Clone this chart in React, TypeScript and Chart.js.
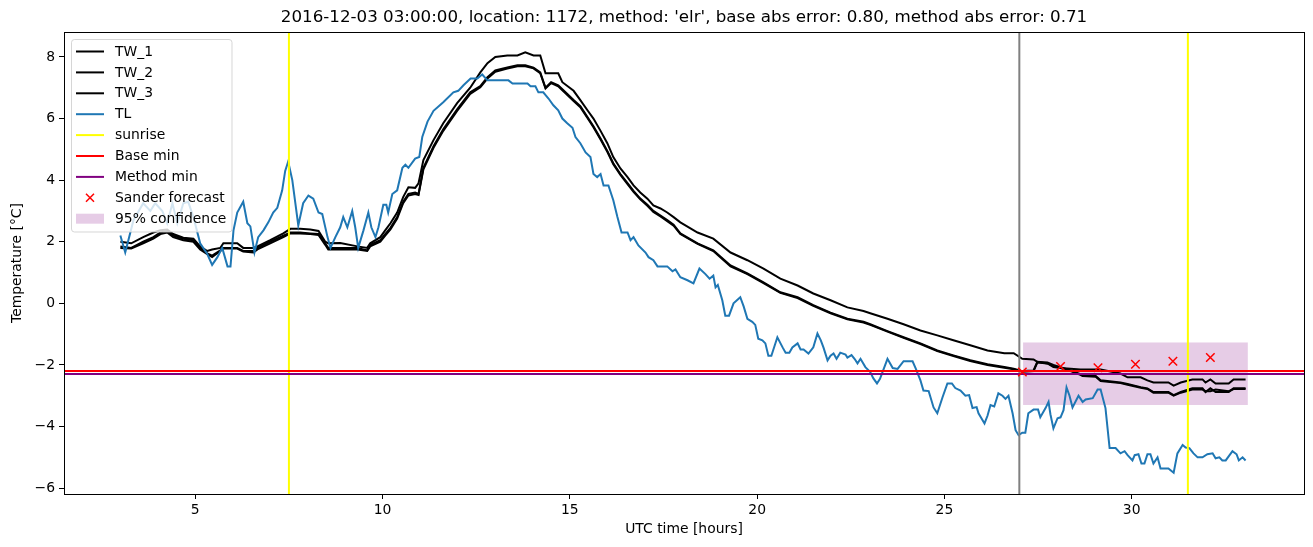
import React, { useEffect, useRef } from "react";
import { Chart, registerables } from "chart.js";

Chart.register(...registerables);

const FONT = "'DejaVu Sans', sans-serif";

const titleText =
  "2016-12-03 03:00:00, location: 1172, method: 'elr', base abs error: 0.80, method abs error: 0.71";
const xAxisTitle = "UTC time [hours]";
const yAxisTitle = "Temperature [°C]";

const xTicks = [5, 10, 15, 20, 25, 30];
const yTicks = [-6, -4, -2, 0, 2, 4, 6, 8];
const xLimits = [1.495, 34.6];
const yLimits = [-6.19, 8.81];

const tlHours = [
  3.0, 3.13, 3.35, 3.61, 3.8, 3.93, 4.12, 4.25, 4.39, 4.52,
  4.68, 4.81, 4.95, 5.13, 5.32, 5.45, 5.59, 5.72, 5.86, 5.94,
  6.02, 6.12, 6.28, 6.39, 6.47, 6.58, 6.68, 6.82, 6.95, 7.08,
  7.19, 7.32, 7.4, 7.48, 7.59, 7.75, 7.88, 8.02, 8.15, 8.29,
  8.39, 8.53, 8.61, 8.74, 8.87, 8.95, 9.06, 9.19, 9.27, 9.35,
  9.49, 9.62, 9.7, 9.81, 9.89, 10.02, 10.1, 10.15, 10.26, 10.39,
  10.53, 10.61, 10.69, 10.87, 10.98, 11.06, 11.2, 11.36, 11.62, 11.89,
  12.02, 12.16, 12.35, 12.53, 12.66, 12.8, 13.36, 13.47, 13.87, 13.95,
  14.08, 14.16, 14.29, 14.43, 14.56, 14.69, 14.8, 14.93, 15.07, 15.15,
  15.28, 15.42, 15.55, 15.63, 15.73, 15.82, 15.9, 16.03, 16.16, 16.27,
  16.38, 16.54, 16.62, 16.7, 16.83, 17.02, 17.1, 17.23, 17.34, 17.6,
  17.74, 17.82, 17.95, 18.14, 18.3, 18.46, 18.62, 18.73, 18.83, 18.89,
  18.95, 19.07, 19.15, 19.25, 19.37, 19.55, 19.64, 19.74, 19.87, 19.95,
  20.03, 20.14, 20.22, 20.3, 20.38, 20.54, 20.68, 20.76, 20.86, 20.94,
  21.08, 21.16, 21.24, 21.37, 21.5, 21.61, 21.7, 21.77, 21.88, 21.96,
  22.04, 22.12, 22.22, 22.36, 22.41, 22.52, 22.6, 22.68, 22.76, 22.89,
  23.02, 23.1, 23.2, 23.28, 23.48, 23.62, 23.75, 23.91, 24.15, 24.23,
  24.36, 24.44, 24.58, 24.71, 24.81, 24.95, 25.08, 25.2, 25.29, 25.43,
  25.56, 25.66, 25.75, 25.86, 25.91, 26.07, 26.15, 26.23, 26.33, 26.44,
  26.55, 26.63, 26.71, 26.82, 26.9, 26.98, 27.08, 27.16, 27.24, 27.38,
  27.5, 27.56, 27.7, 27.78, 27.83, 27.91, 28.02, 28.1, 28.18, 28.26,
  28.34, 28.42, 28.58, 28.69, 28.77, 28.96, 29.09, 29.17, 29.3, 29.41,
  29.57, 29.7, 29.81, 29.89, 30.02, 30.08, 30.18, 30.26, 30.34, 30.42,
  30.5, 30.58, 30.69, 30.77, 30.98, 31.12, 31.22, 31.36, 31.44, 31.54,
  31.65, 31.76, 31.89, 32.02, 32.16, 32.24, 32.34, 32.42, 32.51, 32.69,
  32.8, 32.86, 32.96, 33.04,
];
const tlTemps = [
  2.2, 1.65, 2.7, 3.25, 3.0, 3.25, 3.0, 2.6, 3.25, 2.6,
  3.25, 3.3, 2.8, 1.95, 1.6, 1.25, 1.5, 1.8, 1.2, 1.2,
  2.37, 2.95, 3.3, 2.6, 2.5, 1.65, 2.15, 2.37, 2.63, 2.95,
  3.1, 3.67, 4.3, 4.6, 4.0, 2.53, 3.25, 3.5, 3.4, 2.95,
  2.9, 2.15, 1.8, 2.15, 2.47, 2.8, 2.47, 3.0, 2.47, 1.8,
  2.37, 2.95, 2.47, 2.15, 2.47, 3.2, 3.2, 2.95, 3.55, 3.67,
  4.4, 4.5, 4.4, 4.7, 4.75, 5.4, 5.9, 6.25, 6.53, 6.85,
  6.9, 7.08, 7.3, 7.3, 7.43, 7.24, 7.24, 7.14, 7.14, 7.05,
  7.05, 6.85, 6.85, 6.65, 6.43, 6.27, 6.0, 5.85, 5.7, 5.4,
  5.2, 4.9, 4.75, 4.2, 4.1, 4.2, 3.83, 3.83, 3.35, 2.8,
  2.3, 2.3, 2.05, 2.15, 1.88, 1.65, 1.5, 1.4, 1.2, 1.2,
  1.04, 1.1, 0.85, 0.75, 0.65, 1.13, 0.95, 0.8, 0.9, 0.52,
  0.6, 0.1, -0.4, -0.4, 0.0, 0.2, -0.1, -0.5, -0.6, -0.7,
  -1.15, -1.2, -1.3, -1.7, -1.7, -1.1, -1.43, -1.6, -1.6, -1.43,
  -1.3, -1.5, -1.5, -1.63, -1.43, -0.98, -1.2, -1.43, -1.85, -1.7,
  -1.63, -1.8, -1.6, -1.66, -1.76, -1.68, -1.8, -1.95, -1.8, -2.07,
  -2.23, -2.43, -2.6, -2.45, -1.8, -2.1, -2.13, -1.88, -1.88, -2.1,
  -2.5, -2.83, -2.85, -3.38, -3.57, -3.05, -2.6, -2.6, -2.75, -2.83,
  -3.0, -2.98, -3.4, -3.37, -3.57, -3.9, -3.65, -3.3, -3.35, -2.92,
  -3.0, -3.1, -3.0, -3.57, -4.12, -4.28, -4.2, -4.2, -3.57, -3.45,
  -3.45, -3.7, -3.4, -3.2, -3.6, -4.06, -3.73, -3.7, -3.47, -2.73,
  -3.0, -3.38, -3.0, -3.2, -3.12, -3.08, -2.8, -2.8, -3.4, -4.7,
  -4.7, -4.87, -4.8, -4.93, -5.1, -4.93, -4.9, -5.2, -5.2, -4.9,
  -4.9, -5.2, -5.0, -5.36, -5.36, -5.5, -4.87, -4.6, -4.68, -4.7,
  -4.87, -5.0, -5.0, -4.9, -4.87, -5.03, -5.0, -5.1, -5.1, -4.8,
  -4.9, -5.1, -5.0, -5.1,
];

const twHours = [
  3.0, 3.29, 3.61, 3.88, 4.07, 4.25, 4.41, 4.68, 4.95, 5.13,
  5.32, 5.45, 5.67, 5.75, 6.12, 6.28, 6.55, 6.66, 7.0, 7.35,
  7.54, 7.8, 8.07, 8.29, 8.47, 8.55, 8.87, 9.33, 9.59, 9.67,
  9.94, 10.07, 10.21, 10.39, 10.55, 10.69, 10.87, 10.96, 11.09, 11.36,
  11.62, 11.99, 12.34, 12.61, 12.8, 13.01, 13.33, 13.6, 13.81, 14.03,
  14.21, 14.35, 14.5, 14.69, 14.8, 15.1, 15.28, 15.47, 15.63, 15.82,
  16.0, 16.16, 16.35, 16.54, 16.7, 16.88, 17.07, 17.23, 17.42, 17.6,
  17.77, 17.95, 18.41, 18.83, 19.29, 19.74, 20.17, 20.62, 21.08, 21.5,
  21.96, 22.41, 22.84, 23.02, 23.48, 23.91, 24.36, 24.81, 25.24, 25.69,
  26.15, 26.6, 26.85, 27.08, 27.38, 27.48, 27.75, 27.91, 28.1, 28.37,
  28.63, 28.69, 29.04, 29.17, 29.7, 29.89, 30.24, 30.42, 30.58, 30.98,
  31.12, 31.31, 31.62, 31.89, 31.97, 32.1, 32.24, 32.59, 32.72, 33.04,
];
const tw1 = [
  2.0, 1.95, 2.15, 2.3, 2.37, 2.4, 2.25, 2.13, 2.1, 1.85,
  1.7, 1.75, 1.8, 1.95, 1.95, 1.8, 1.8, 1.85, 2.05, 2.27,
  2.42, 2.42, 2.4, 2.35, 2.0, 1.95, 1.96, 1.85, 1.8, 1.95,
  2.15, 2.37, 2.6, 2.95, 3.45, 3.77, 3.75, 3.9, 4.65, 5.3,
  5.85, 6.5, 7.0, 7.5, 7.8, 8.0, 8.05, 8.05, 8.15, 8.05,
  8.05, 7.47, 7.47, 7.47, 7.18, 6.9, 6.6, 6.27, 6.0, 5.6,
  5.2, 4.75, 4.38, 4.1, 3.83, 3.6, 3.4, 3.18, 3.08, 2.95,
  2.8, 2.63, 2.3, 2.1, 1.65, 1.4, 1.13, 0.8, 0.58, 0.32,
  0.1, -0.13, -0.25, -0.32, -0.5, -0.68, -0.88, -1.04, -1.2, -1.36,
  -1.53, -1.62, -1.62, -1.8, -1.82, -1.9, -1.95, -2.07, -2.1, -2.12,
  -2.15, -2.15, -2.15, -2.15, -2.28, -2.4, -2.4, -2.5, -2.57, -2.57,
  -2.67, -2.57, -2.47, -2.47, -2.57, -2.47, -2.6, -2.6, -2.47, -2.47,
];
const tw2 = [
  1.85, 1.8, 2.0, 2.15, 2.3, 2.35, 2.2, 2.1, 2.05, 1.8,
  1.62, 1.55, 1.72, 1.8, 1.8, 1.7, 1.7, 1.8, 2.0, 2.2,
  2.3, 2.3, 2.27, 2.25, 1.95, 1.8, 1.8, 1.8, 1.72, 1.9,
  2.05, 2.25, 2.45, 2.8, 3.3, 3.55, 3.6, 3.55, 4.4, 5.1,
  5.65, 6.3, 6.85, 7.05, 7.34, 7.56, 7.66, 7.73, 7.73, 7.65,
  7.5, 7.0, 7.18, 7.08, 6.95, 6.6, 6.4, 6.05, 5.75, 5.35,
  4.95, 4.55, 4.2, 3.9, 3.65, 3.4, 3.2, 3.0, 2.85, 2.7,
  2.55, 2.27, 1.95, 1.72, 1.23, 0.97, 0.68, 0.36, 0.2, -0.06,
  -0.3, -0.5, -0.6, -0.68, -0.9, -1.1, -1.3, -1.53, -1.69, -1.85,
  -1.98, -2.07, -2.12, -2.2, -2.18, -1.9, -1.92, -2.0, -2.07, -2.18,
  -2.3, -2.34, -2.36, -2.5, -2.57, -2.62, -2.72, -2.76, -2.88, -2.88,
  -2.98, -2.88, -2.76, -2.76, -2.88, -2.76, -2.88, -2.88, -2.76, -2.76,
];
const tw3 = [
  1.8, 1.78, 1.95, 2.1, 2.25, 2.3, 2.15, 2.05, 2.0, 1.75,
  1.6, 1.5, 1.7, 1.78, 1.78, 1.68, 1.65, 1.75, 1.95, 2.15,
  2.27, 2.27, 2.25, 2.22, 1.9, 1.75, 1.75, 1.75, 1.7, 1.85,
  2.0, 2.2, 2.4, 2.75, 3.25, 3.5, 3.55, 3.52, 4.35, 5.05,
  5.6, 6.25, 6.8, 7.02, 7.3, 7.52, 7.62, 7.7, 7.7, 7.63,
  7.47, 6.98, 7.15, 7.05, 6.92, 6.57, 6.37, 6.02, 5.72, 5.32,
  4.92, 4.52, 4.17, 3.87, 3.62, 3.38, 3.17, 2.97, 2.82, 2.67,
  2.52, 2.25, 1.93, 1.7, 1.2, 0.95, 0.66, 0.34, 0.17, -0.08,
  -0.32, -0.52, -0.62, -0.7, -0.92, -1.12, -1.32, -1.55, -1.71, -1.87,
  -2.0, -2.09, -2.14, -2.22, -2.2, -1.92, -1.95, -2.03, -2.1, -2.2,
  -2.32, -2.36, -2.38, -2.52, -2.59, -2.64, -2.74, -2.78, -2.9, -2.9,
  -3.0, -2.9, -2.8, -2.8, -2.85, -2.85, -2.8, -2.85, -2.78, -2.78,
];

const sunriseHours = [7.5, 31.5];
const forecastStartHour = 27;
const baseMin = -2.2;
const methodMin = -2.29;
const sanderHours = [27.08, 28.1, 29.1, 30.1, 31.1, 32.1];
const sanderTemps = [-2.23, -2.05, -2.09, -1.98, -1.88, -1.76];
const confHours = [27.1, 33.1];
const confTemps = [-3.3, -1.27];

const legendItems = [
  { label: "TW_1", kind: "line", color: "#000000" },
  { label: "TW_2", kind: "line", color: "#000000" },
  { label: "TW_3", kind: "line", color: "#000000" },
  { label: "TL", kind: "line", color: "#1f77b4" },
  { label: "sunrise", kind: "line", color: "#ffff00" },
  { label: "Base min", kind: "line", color: "#ff0000" },
  { label: "Method min", kind: "line", color: "#800080" },
  { label: "Sander forecast", kind: "marker", color: "#ff0000" },
  { label: "95% confidence", kind: "patch", color: "rgba(128,0,128,0.2)" },
];

const fmtTick = (v: number | string) => String(v).replace("-", "\u2212");

export default function App() {
  const ref = useRef<HTMLCanvasElement>(null);

  useEffect(() => {
    const canvas = ref.current;
    if (!canvas) return;

    const pts = (xs: number[], ys: number[]) => xs.map((x, i) => ({ x, y: ys[i] }));
    const vLine = (h: number) => [
      { x: h, y: yLimits[0] },
      { x: h, y: yLimits[1] },
    ];
    const hLine = (v: number) => [
      { x: xLimits[0], y: v },
      { x: xLimits[1], y: v },
    ];
    const lineDs = (label: string, data: any[], color: string, order: number) => ({
      type: "line" as const,
      label,
      data,
      borderColor: color,
      backgroundColor: color,
      borderWidth: 2,
      pointRadius: 0,
      pointHoverRadius: 0,
      fill: false,
      tension: 0,
      order,
    });

    const decor = {
      id: "decor",
      beforeDatasetsDraw(chart: any) {
        const { ctx, chartArea, scales } = chart;
        const xs = scales.x;
        const ys = scales.y;
        ctx.save();
        ctx.beginPath();
        ctx.rect(chartArea.left, chartArea.top, chartArea.right - chartArea.left, chartArea.bottom - chartArea.top);
        ctx.clip();
        const x1 = xs.getPixelForValue(confHours[0]);
        const x2 = xs.getPixelForValue(confHours[1]);
        const y1 = ys.getPixelForValue(confTemps[1]);
        const y2 = ys.getPixelForValue(confTemps[0]);
        ctx.fillStyle = "rgba(128,0,128,0.2)";
        ctx.fillRect(x1, y1, x2 - x1, y2 - y1);
        ctx.restore();
      },
      afterDatasetsDraw(chart: any) {
        const { ctx, chartArea } = chart;
        ctx.save();
        ctx.strokeStyle = "#000";
        ctx.lineWidth = 1;
        ctx.strokeRect(
          chartArea.left + 0.5,
          chartArea.top + 0.5,
          chartArea.right - chartArea.left,
          chartArea.bottom - chartArea.top
        );
        ctx.restore();
      },
      afterDraw(chart: any) {
        const { ctx, chartArea } = chart;
        const cx = (chartArea.left + chartArea.right) / 2;
        const cy = (chartArea.top + chartArea.bottom) / 2;
        ctx.save();
        ctx.fillStyle = "#000";
        ctx.textAlign = "center";
        ctx.textBaseline = "middle";
        ctx.font = `16.7px ${FONT}`;
        ctx.fillText(titleText, cx, 17.5);
        ctx.font = `13.9px ${FONT}`;
        ctx.fillText(xAxisTitle, cx, 529);
        ctx.save();
        ctx.translate(17, cy);
        ctx.rotate(-Math.PI / 2);
        ctx.fillText(yAxisTitle, 0, 0);
        ctx.restore();

        // legend
        const bx = 71.5;
        const by = 39.5;
        const bw = 160.5;
        const bh = 192.5;
        const r = 3;
        ctx.beginPath();
        ctx.moveTo(bx + r, by);
        ctx.lineTo(bx + bw - r, by);
        ctx.quadraticCurveTo(bx + bw, by, bx + bw, by + r);
        ctx.lineTo(bx + bw, by + bh - r);
        ctx.quadraticCurveTo(bx + bw, by + bh, bx + bw - r, by + bh);
        ctx.lineTo(bx + r, by + bh);
        ctx.quadraticCurveTo(bx, by + bh, bx, by + bh - r);
        ctx.lineTo(bx, by + r);
        ctx.quadraticCurveTo(bx, by, bx + r, by);
        ctx.closePath();
        ctx.fillStyle = "rgba(255,255,255,0.8)";
        ctx.fill();
        ctx.strokeStyle = "rgba(204,204,204,0.8)";
        ctx.lineWidth = 1;
        ctx.stroke();

        ctx.textAlign = "left";
        ctx.textBaseline = "middle";
        ctx.font = `13.9px ${FONT}`;
        legendItems.forEach((it, i) => {
          const y = 51.5 + i * 20.9;
          if (it.kind === "line") {
            ctx.strokeStyle = it.color;
            ctx.lineWidth = 2;
            ctx.beginPath();
            ctx.moveTo(76, y);
            ctx.lineTo(104, y);
            ctx.stroke();
          } else if (it.kind === "marker") {
            ctx.strokeStyle = it.color;
            ctx.lineWidth = 1.5;
            const s = 4;
            ctx.beginPath();
            ctx.moveTo(90 - s, y - s);
            ctx.lineTo(90 + s, y + s);
            ctx.moveTo(90 - s, y + s);
            ctx.lineTo(90 + s, y - s);
            ctx.stroke();
          } else {
            ctx.fillStyle = it.color;
            ctx.fillRect(76, y - 5, 28, 10);
          }
          ctx.fillStyle = "#000";
          ctx.fillText(it.label, 115, y + 0.5);
        });
        ctx.restore();
      },
    };

    const chart = new Chart(canvas, {
      type: "line",
      data: {
        datasets: [
          lineDs("TW_1", pts(twHours, tw1), "#000000", 12),
          lineDs("TW_2", pts(twHours, tw2), "#000000", 11),
          lineDs("TW_3", pts(twHours, tw3), "#000000", 10),
          lineDs("TL", pts(tlHours, tlTemps), "#1f77b4", 9),
          lineDs("forecast start", vLine(forecastStartHour), "#808080", 8),
          lineDs("sunrise", vLine(sunriseHours[0]), "#ffff00", 7),
          lineDs("sunrise 2", vLine(sunriseHours[1]), "#ffff00", 7),
          lineDs("Base min", hLine(baseMin), "#ff0000", 5),
          lineDs("Method min", hLine(methodMin), "#800080", 4),
          {
            type: "line" as const,
            label: "Sander forecast",
            data: pts(sanderHours, sanderTemps),
            showLine: false,
            pointStyle: "crossRot",
            pointRadius: 6,
            pointHoverRadius: 6,
            pointBorderWidth: 1.5,
            borderColor: "#ff0000",
            backgroundColor: "#ff0000",
            order: 3,
          },
        ] as any,
      },
      options: {
        responsive: false,
        devicePixelRatio: 1,
        animation: false,
        events: [],
        layout: { padding: { top: 32, right: 9, bottom: 0, left: 0 } },
        plugins: {
          legend: { display: false },
          title: { display: false },
          tooltip: { enabled: false },
        },
        scales: {
          x: {
            type: "linear",
            min: xLimits[0],
            max: xLimits[1],
            afterBuildTicks: (s: any) => {
              s.ticks = xTicks.map((v) => ({ value: v }));
            },
            afterFit: (s: any) => {
              s.height = 53;
            },
            grid: {
              display: true,
              drawOnChartArea: false,
              drawTicks: true,
              tickLength: 5,
              color: "#000",
              lineWidth: 1,
            },
            border: { display: false },
            ticks: {
              color: "#000",
              font: { size: 13.9, family: FONT },
              padding: 3,
              maxRotation: 0,
              autoSkip: false,
              callback: (v: any) => fmtTick(v),
            },
          },
          y: {
            type: "linear",
            min: yLimits[0],
            max: yLimits[1],
            afterBuildTicks: (s: any) => {
              s.ticks = yTicks.map((v) => ({ value: v }));
            },
            afterFit: (s: any) => {
              s.width = 64;
            },
            grid: {
              display: true,
              drawOnChartArea: false,
              drawTicks: true,
              tickLength: 5,
              color: "#000",
              lineWidth: 1,
            },
            border: { display: false },
            ticks: {
              color: "#000",
              font: { size: 13.9, family: FONT },
              padding: 4,
              autoSkip: false,
              callback: (v: any) => fmtTick(v),
            },
          },
        },
      } as any,
      plugins: [decor],
    });

    return () => chart.destroy();
  }, []);

  return (
    <div
      style={{
        position: "fixed",
        left: 0,
        top: 0,
        width: 1313,
        height: 547,
        background: "#ffffff",
      }}
    >
      <canvas ref={ref} width={1313} height={547} style={{ width: 1313, height: 547, display: "block" }} />
    </div>
  );
}
